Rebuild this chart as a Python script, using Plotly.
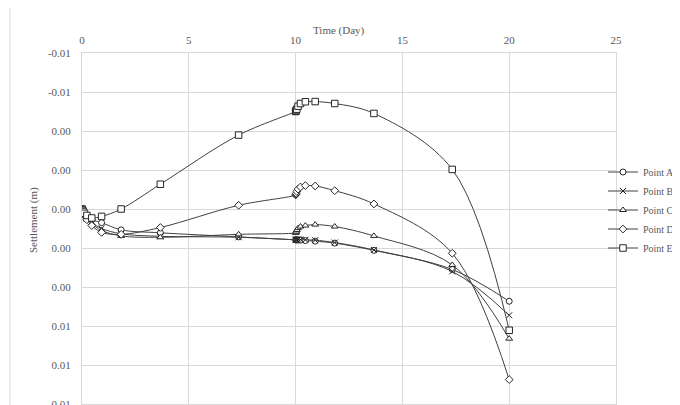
import plotly.graph_objects as go

# Time (days)
time_days = [0, 0.0143, 0.0286, 0.0573, 0.1146, 0.229, 0.458, 0.917, 1.833, 3.667, 7.333,
             10, 10.0143, 10.0286, 10.0573, 10.1146, 10.229, 10.458, 10.917, 11.833, 13.667, 17.333, 20]

point_a = [0, 0.00004, 0.00008, 0.00016, 0.00027, 0.0004, 0.00055, 0.0007, 0.00107, 0.00122, 0.00143,
           0.00158, 0.00158, 0.00158, 0.00158, 0.00159, 0.0016, 0.00162, 0.00165, 0.00175, 0.00212, 0.0031, 0.00473]
point_b = [0, 0.00005, 0.0001, 0.0002, 0.00032, 0.00048, 0.0007, 0.001, 0.00127, 0.0014, 0.00145,
           0.00158, 0.00158, 0.00158, 0.00157, 0.00157, 0.00157, 0.00158, 0.0016, 0.00172, 0.0021, 0.0032, 0.00545]
point_c = [0, 0.00005, 0.0001, 0.0002, 0.00033, 0.0005, 0.00075, 0.0011, 0.00138, 0.00145, 0.0013,
           0.00122, 0.0012, 0.00116, 0.00108, 0.00098, 0.0009, 0.00085, 0.0008, 0.0009, 0.00138, 0.00287, 0.00665]
point_d = [0, 0.00005, 0.0001, 0.0002, 0.00035, 0.00055, 0.00085, 0.0012, 0.0013, 0.00095, -0.00019,
           -0.00072, -0.00076, -0.0008, -0.0009, -0.00102, -0.00113, -0.0012, -0.00118, -0.00094, -0.00026, 0.00227, 0.00875]
point_e = [0, 0.00003, 0.00007, 0.00013, 0.00022, 0.00033, 0.00046, 0.00038, 0.0, -0.00127, -0.00379,
           -0.0050, -0.00502, -0.00505, -0.00512, -0.00527, -0.00541, -0.0055, -0.00551, -0.00541, -0.0049, -0.00203, 0.00622]

series_names = ["Point A", "Point B", "Point C", "Point D", "Point E"]
series_values = [point_a, point_b, point_c, point_d, point_e]
series_symbols = ["circle", "x-thin-open", "triangle-up", "diamond", "square"]

x_tick_vals = [0, 5, 10, 15, 20, 25]
y_tick_vals = [-0.008, -0.006, -0.004, -0.002, 0.0, 0.002, 0.004, 0.006, 0.008, 0.010]
y_tick_text = ["-0.01", "-0.01", "0.00", "0.00", "0.00", "0.00", "0.00", "0.01", "0.01", "0.01"]

FONT = "Liberation Serif, Times New Roman, serif"
TXT = "#595959"
GRID = "#d9d9d9"
LINE = "#404040"
MK = "#262626"

fig = go.Figure()
for name, vals, sym in zip(series_names, series_values, series_symbols):
    size = 6.5 if sym == "square" else 6
    fig.add_trace(go.Scatter(
        x=time_days, y=vals, name=name, mode="lines+markers",
        line=dict(color=LINE, width=1, shape="spline", smoothing=1.0),
        marker=dict(symbol=sym, size=size, color="white" if sym != "x-thin-open" else MK,
                    line=dict(color=MK, width=1)),
    ))

# page body has an 8px default margin, so the figure is offset by 8px;
# the figure is a little wider than the window so the legend text runs off the right edge
fig.update_layout(
    width=720, height=405,
    margin=dict(l=74, r=112, t=45, b=9, autoexpand=False),
    paper_bgcolor="white", plot_bgcolor="white",
    font=dict(family=FONT, size=11, color=TXT),
    showlegend=True,
    legend=dict(x=(603 - 82) / 534, xanchor="left", y=(404 - 210) / 351, yanchor="middle",
                font=dict(family=FONT, size=10, color=TXT), bgcolor="rgba(0,0,0,0)",
                itemwidth=30, tracegroupgap=0),
    xaxis=dict(side="top", range=[0, 25], tickvals=x_tick_vals, showgrid=True, gridcolor=GRID,
               gridwidth=1, zeroline=False, showline=True, linecolor=GRID, mirror=True,
               ticks="", ticklabelstandoff=4, tickfont=dict(family=FONT, size=11, color=TXT)),
    yaxis=dict(range=[0.010, -0.008], tickvals=y_tick_vals, ticktext=y_tick_text, showgrid=True,
               gridcolor=GRID, gridwidth=1, zeroline=False, showline=True, linecolor=GRID, mirror=True,
               ticks="", ticklabelstandoff=8, tickfont=dict(family=FONT, size=11, color=TXT)),
    annotations=[
        dict(text="Time (Day)", xref="paper", yref="paper", x=(339 - 82) / 534, y=(404 - 30.7) / 351,
             xanchor="center", yanchor="middle", showarrow=False,
             font=dict(family=FONT, size=11, color=TXT)),
        dict(text="Settlement (m)", xref="paper", yref="paper", x=(33 - 82) / 534, y=(404 - 220) / 351,
             xanchor="center", yanchor="middle", showarrow=False, textangle=-90,
             font=dict(family=FONT, size=11, color=TXT)),
    ],
    shapes=[dict(type="rect", xref="paper", yref="paper", x0=(10 - 82) / 534, x1=1.3,
                 y0=-0.05, y1=(404 - 7) / 351, line=dict(color=GRID, width=1), layer="below")],
)

fig.write_html("out.html")
